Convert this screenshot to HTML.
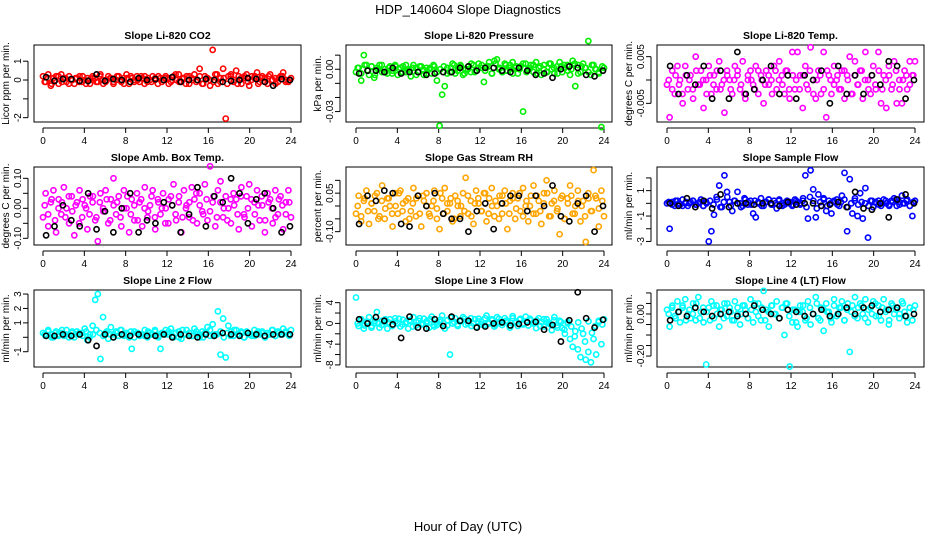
<!DOCTYPE html>
<html><head><meta charset="utf-8"><style>
html,body{margin:0;padding:0;background:#fff;}
svg{display:block;font-family:"Liberation Sans",sans-serif;}
</style></head><body>
<svg id="c" width="936" height="540" viewBox="0 0 936 540">
<text x="468" y="14" text-anchor="middle" font-size="13">HDP_140604  Slope Diagnostics</text>
<text x="468" y="531" text-anchor="middle" font-size="13">Hour of Day (UTC)</text>
</svg>
<script>
const xTicks=[0,4,8,12,16,20,24];
const titles=["Slope Li-820 CO2","Slope Li-820 Pressure","Slope Li-820 Temp.","Slope Amb. Box Temp.","Slope Gas Stream RH","Slope Sample Flow","Slope Line 2 Flow","Slope Line 3 Flow","Slope Line 4 (LT) Flow"];
const yTitles=["Licor ppm per min.","kPa per min.","degrees C per min.","degrees C per min.","percent per min.","ml/min per min.","ml/min per min.","ml/min per min.","ml/min per min."];
const yTickVals=[[-2,-1,0,1],[-0.03,-0.02,-0.01,0,0.01],[-0.005,0,0.005],[-0.1,-0.05,0,0.05,0.1],[-0.1,-0.05,0,0.05,0.1],[-3,-2,-1,0,1,2],[-1,0,1,2,3],[-8,-6,-4,-2,0,2,4],[-0.2,-0.15,-0.1,-0.05,0,0.05,0.1]];
const yTickLabels=[["-2","","0","1"],["-0.03","","","0.00",""],["-0.005","","0.005"],["-0.10","","0.00","","0.10"],["-0.10","","","0.05",""],["-3","","-1","","1",""],["-1","","1","2","3"],["-8","","-4","","0","","4"],["-0.20","","","","0.00","",""]];
const yDomains=[[-2.23,1.86],[-0.0374,0.0172],[-0.009,0.0075],[-0.1223,0.1377],[-0.152,0.152],[-3.28,2.86],[-2.06,3.28],[-8.4,6.44],[-0.252,0.114]];
const colors=["#ff0000","#00ee00","#ff00ff","#ff00ff","#ffa500","#0000ff","#00ffff","#00ffff","#00ffff"];
const co2=[0.2,-0.1,0.3,-0.3,0.1,0.2,-0.2,0.3,0.1,-0.1,0.2,0.0,-0.2,0.1,0.2,-0.1,0.0,0.1,-0.2,0.2,0.1,-0.1,0.3,0.0,-0.1,0.2,0.1,-0.2,0.0,0.2,-0.1,0.1,0.3,-0.2,0.1,0.0,0.2,-0.1,0.1,0.2,-0.1,0.0,0.2,0.1,-0.2,0.1,0.0,0.2,0.1,-0.1,0.2,0.0,0.3,-0.1,0.1,0.2,-0.2,0.1,0.3,0.0,0.6,-0.2,0.2,0.1,-0.3,1.6,0.3,-0.2,0.1,0.6,-2.05,0.2,0.3,-0.1,0.5,0.2,-0.2,0.1,0.3,-0.3,0.2,0.1,0.4,-0.1,0.2,0.1,-0.2,0.3,0.0,0.1,-0.1,0.2,0.4,0.0,-0.1,0.1];
const co2B=[-0.1,0.1,-0.2,0.0,0.2,-0.1,0.1,-0.2,0.0,0.1,-0.1,0.2,-0.2,0.0,0.1,-0.1,0.2,-0.2,0.0,0.1,-0.1,0.2,0.0,-0.2,0.1,0.2,-0.1,0.0,0.2,-0.2,0.1,-0.1,0.0,0.2,-0.1,0.1,-0.2,0.0,0.3,-0.1,0.1,-0.2,0.2,0.0,-0.1,0.2,-0.2,0.1,0.0,-0.1,0.3,-0.1,0.1,-0.2,0.2,0.0,-0.2,0.1,0.2,-0.1,0.0,0.2,-0.2,0.1,-0.1,0.2,0.0,-0.2,0.1,0.2,-0.1,0.0];
const pressure=[-0.002,0.001,-0.008,0.010,0.003,-0.004,0.002,-0.006,0.001,0.003,-0.002,0.000,-0.003,0.002,-0.001,0.003,-0.004,0.001,0.002,-0.002,0.000,-0.005,0.003,0.001,-0.002,0.002,-0.004,0.001,0.000,-0.003,0.002,-0.008,-0.040,-0.018,-0.012,0.001,-0.002,0.004,-0.003,0.001,0.003,-0.004,0.000,0.002,-0.002,0.003,-0.001,0.004,0.001,-0.009,0.002,0.005,-0.003,0.006,0.007,0.001,-0.002,0.004,-0.001,0.003,0.005,0.001,-0.003,0.002,-0.030,0.004,0.000,0.003,-0.002,0.005,0.001,-0.004,0.003,-0.002,0.004,0.000,-0.003,0.002,0.005,-0.002,0.001,0.003,-0.004,0.006,-0.012,0.003,-0.002,0.004,0.001,0.020,-0.004,0.003,0.000,-0.002,-0.041,0.001];
const pressureB=[0.001,-0.003,0.003,-0.001,0.002,-0.004,0.000,0.003,-0.002,0.001,-0.003,0.002,0.000,-0.002,0.003,-0.001,0.001,-0.004,0.002,0.000,-0.003,0.001,0.003,-0.002,0.000,0.002,-0.003,0.001,0.003,-0.001,0.002,-0.003,0.000,0.004,-0.002,0.001,0.003,-0.001,0.002,-0.003,0.004,0.000,-0.002,0.003,0.001,-0.003,0.002,0.000,0.004,-0.002,0.001,0.003,-0.003,0.002,0.000,-0.002,0.004,0.001,-0.003,0.002,0.003,-0.001,0.000,0.004,-0.003,0.002,0.001,-0.002,0.003,0.000,-0.003,0.002];
const licorTemp=[-0.001,-0.008,0.002,-0.003,0.003,0.000,-0.005,0.003,-0.002,0.001,-0.004,0.005,-0.001,0.002,-0.006,0.000,0.003,-0.003,0.001,-0.002,0.004,-0.001,-0.007,0.002,0.000,-0.003,0.003,0.001,-0.002,0.004,-0.004,0.000,0.002,-0.001,0.003,-0.003,0.001,-0.005,0.002,-0.001,0.000,0.003,-0.002,0.004,0.001,-0.003,0.002,-0.004,0.006,-0.002,0.006,0.001,-0.006,0.003,-0.002,0.007,0.000,-0.004,0.002,-0.003,0.006,-0.008,0.001,-0.003,0.003,0.000,-0.002,0.002,-0.004,0.001,0.005,-0.003,0.004,-0.001,0.002,-0.004,0.006,0.000,-0.003,0.003,-0.002,0.006,-0.005,0.001,-0.006,0.003,-0.002,0.004,-0.005,0.000,-0.005,0.002,-0.002,0.004,0.001,0.004];
const licorTempB=[0.000,-0.002,0.001,-0.001,-0.003,0.001,0.000,-0.002,0.002,-0.001,0.000,-0.003,0.001,-0.001,0.002,-0.002,0.000,0.001,-0.002,0.000,0.002,-0.001,-0.003,0.001,0.000,-0.002,0.002,0.000,-0.001,0.001,-0.003,0.002,0.000,-0.001,0.002,-0.002,0.001,0.000,-0.002,0.001,-0.001,0.002,-0.003,0.000,0.001,-0.002,0.002,0.000,-0.001,0.001,-0.002,0.002,0.000,-0.003,0.001,-0.001,0.002,0.000,-0.002,0.001,-0.001,0.002,-0.002,0.000,0.001,-0.001,0.002,-0.002,0.000,0.001,-0.001,0.001];
const ambTemp=[-0.03,0.05,-0.06,0.02,0.06,-0.08,0.03,-0.02,0.07,0.00,-0.05,0.04,-0.09,0.02,0.06,-0.03,0.01,-0.07,0.04,0.02,-0.04,-0.11,0.05,0.00,0.06,-0.05,0.03,0.10,-0.02,0.04,-0.06,0.06,0.00,-0.08,0.03,-0.04,0.05,0.02,-0.06,0.07,-0.03,0.01,0.06,-0.07,0.03,-0.02,0.05,0.00,-0.05,0.04,0.08,-0.04,0.02,-0.08,0.06,0.01,-0.03,0.07,0.03,-0.05,0.05,-0.01,0.08,-0.04,0.14,0.02,-0.06,0.06,0.09,-0.03,0.04,0.00,-0.05,0.05,0.03,-0.07,0.07,-0.02,0.04,0.08,-0.06,0.02,0.06,-0.04,0.01,-0.08,0.05,0.03,-0.05,0.06,-0.02,0.04,-0.07,0.02,0.06,-0.03];
const ambTempB=[0.01,-0.02,0.03,-0.04,0.00,0.02,-0.03,0.04,-0.01,0.01,-0.05,0.03,0.00,-0.02,0.04,-0.03,0.02,-0.01,0.03,-0.04,0.01,0.02,-0.03,0.00,0.04,-0.02,0.01,-0.04,0.03,0.00,-0.01,0.04,-0.03,0.02,0.00,-0.05,0.03,0.01,-0.02,0.04,-0.03,0.00,0.02,-0.04,0.05,0.01,-0.02,0.03,-0.01,0.04,-0.03,0.02,0.00,-0.04,0.03,0.01,-0.02,0.04,-0.03,0.00,0.03,-0.02,0.01,0.04,-0.04,0.02,0.00,-0.03,0.03,0.01,-0.02,0.02];
const rh=[-0.03,0.04,-0.06,0.02,0.06,-0.07,0.01,-0.02,0.05,-0.04,0.08,-0.05,0.03,0.00,-0.08,0.05,-0.03,0.06,0.01,-0.06,0.03,-0.02,0.07,-0.04,0.04,-0.08,0.02,0.05,-0.03,0.00,0.06,-0.05,-0.09,0.03,0.07,-0.02,0.01,-0.06,0.04,0.00,-0.04,0.05,0.11,-0.03,0.02,-0.07,0.06,0.01,-0.02,0.05,-0.06,0.03,0.07,-0.04,0.00,0.04,-0.03,0.06,-0.09,0.02,0.05,-0.05,0.03,-0.02,0.07,0.00,-0.06,0.04,0.08,-0.03,0.02,-0.07,0.05,0.10,-0.04,0.01,0.06,-0.02,-0.11,0.04,-0.05,0.03,0.08,-0.03,0.00,0.06,-0.06,0.02,-0.14,0.05,-0.02,0.14,0.03,-0.08,0.06,-0.04];
const rhB=[0.00,-0.04,0.03,-0.02,0.01,0.04,-0.05,0.02,-0.01,0.03,-0.03,0.00,0.05,-0.02,0.02,-0.05,0.01,0.03,-0.03,0.04,0.00,-0.04,0.02,-0.01,0.05,-0.03,0.01,0.03,-0.05,0.02,0.00,-0.02,0.04,-0.04,0.01,0.03,-0.02,0.05,-0.03,0.00,0.02,-0.05,0.04,0.01,-0.03,0.03,-0.01,0.05,-0.04,0.02,0.00,-0.03,0.04,-0.02,0.01,0.05,-0.04,0.02,-0.01,0.03,-0.05,0.01,0.04,-0.03,0.02,0.00,-0.04,0.03,-0.02,0.04,-0.01,0.02];
const sampleFlow=[0.0,-2.0,0.1,-0.2,0.2,-0.1,0.3,0.0,-0.2,0.1,0.2,-0.1,0.0,0.3,-0.2,0.1,-3.0,-2.2,-0.9,0.5,1.4,-0.3,2.2,0.9,0.1,-0.6,0.2,0.9,0.0,-0.2,0.3,-0.1,0.2,-0.8,-1.1,0.1,0.4,-0.2,0.1,0.3,-0.1,0.2,-0.4,0.3,0.0,-0.1,0.2,0.1,-0.2,0.3,0.1,-0.1,0.2,2.2,-1.2,2.6,1.1,-1.1,0.7,-0.2,0.4,-0.6,0.2,-0.8,0.1,0.3,-0.2,0.6,2.4,-2.2,1.9,-0.8,0.4,-1.0,0.8,-1.2,1.2,-2.7,0.2,-0.3,0.1,0.2,-0.2,0.3,0.0,-0.1,0.2,0.4,-0.2,0.1,0.6,0.0,0.3,-0.2,-1.0,0.2];
const sampleFlowB=[0.1,-0.1,0.2,0.0,-0.2,0.1,0.0,0.2,-0.1,0.1,-0.2,0.0,0.2,-0.1,0.3,-0.3,0.1,0.5,-0.2,0.2,0.0,-0.3,0.4,0.1,-0.1,0.2,0.0,-0.2,0.1,0.3,-0.1,0.0,0.2,-0.2,0.1,0.0,-0.1,0.2,0.0,0.4,-0.3,0.5,0.2,-0.4,0.1,0.3,-0.2,0.0,0.2,-0.1,0.1,0.3,-0.3,0.0,0.2,-0.1,0.1,0.0,-0.2,0.2,0.1,-0.1,0.0,0.2,-0.2,0.1,0.3,-0.1,0.0,0.2,-0.2,0.1];
const line2=[0.3,0.1,0.5,0.2,0.0,0.4,0.2,0.3,0.1,0.5,0.2,0.3,0.0,0.4,0.2,0.3,0.6,-0.2,0.2,0.8,2.6,3.0,-1.5,1.4,0.3,-0.1,0.7,0.2,0.4,0.1,0.5,0.2,0.3,0.0,-0.8,0.4,0.3,0.1,0.2,0.5,0.0,0.3,0.2,0.4,0.1,-0.8,0.3,0.5,0.2,0.6,0.0,0.3,0.4,-0.1,0.2,0.5,0.3,0.1,0.6,0.2,0.0,0.4,0.3,0.7,0.1,0.9,0.2,1.8,-1.2,1.3,-1.4,0.8,0.4,0.1,0.5,0.2,0.3,0.0,0.4,0.2,0.1,0.5,0.3,0.2,0.4,0.0,0.3,0.2,0.5,0.1,0.4,0.2,0.6,0.3,0.2,0.5];
const line2B=[0.2,0.4,0.0,0.3,0.1,0.5,0.2,0.0,0.4,0.2,0.3,0.1,0.4,0.0,0.2,0.5,0.3,0.1,0.4,0.2,0.0,0.3,0.5,0.1,0.2,0.4,0.0,0.3,0.2,0.1,0.4,0.2,0.5,0.0,0.3,0.2,0.4,0.1,0.3,0.0,0.5,0.2,0.3,0.1,0.4,0.2,0.0,0.3,0.5,0.1,0.2,0.4,0.0,0.3,0.1,0.5,0.2,0.4,0.0,0.3,0.2,0.1,0.4,0.3,0.0,0.2,0.5,0.1,0.3,0.2,0.4,0.1];
const line3=[5.0,-0.5,0.8,-1.0,0.3,1.2,-0.5,0.0,2.2,-0.8,0.5,0.2,-1.0,0.8,-0.3,1.0,0.0,-0.6,0.7,0.2,-1.0,0.4,1.2,-0.4,0.5,-0.2,0.9,0.0,-0.8,1.3,-0.6,-0.3,0.3,1.5,-1.0,0.6,-6.0,0.0,1.0,-0.5,0.4,1.2,-0.2,0.5,1.0,0.0,-0.7,0.9,0.3,-0.4,1.5,0.0,0.8,-0.6,1.2,0.2,-0.3,1.0,0.5,-0.8,1.4,0.1,-0.5,0.9,0.0,1.3,-0.4,0.6,0.2,-0.9,1.0,0.3,-0.6,0.8,0.0,-1.3,1.2,-0.4,0.5,-0.9,-2.0,0.3,-3.0,-4.5,-1.5,-5.0,-6.5,-2.0,-7.0,-5.5,-7.5,-3.0,-6.0,0.5,-4.0,0.8];
const line3B=[0.0,0.6,-0.4,0.3,-0.8,0.5,0.0,-0.3,0.8,0.2,-0.5,0.4,0.9,-0.2,0.1,0.6,-0.6,0.3,1.0,-0.1,0.4,0.8,-0.3,0.2,0.7,0.0,-0.4,1.1,0.3,-0.2,0.6,0.9,0.0,-0.5,0.8,0.4,-0.2,1.0,0.2,0.6,-0.3,0.9,0.1,0.5,-0.4,1.0,0.3,0.7,-0.2,0.4,0.9,0.0,0.6,-0.5,0.8,0.2,-0.2,0.6,-0.8,0.3,-1.2,0.0,-0.6,-2.5,0.2,-1.0,-3.5,0.4,-1.8,-0.5,0.3,-0.2];
const line4=[0.02,-0.06,0.04,-0.01,0.06,-0.04,0.03,0.07,0.00,-0.02,0.05,-0.03,0.08,0.01,-0.04,-0.24,0.03,0.06,-0.02,0.04,-0.06,0.02,0.05,-0.01,0.03,-0.03,0.06,0.00,-0.05,0.04,0.02,-0.02,0.07,-0.04,0.01,0.05,-0.03,0.11,0.02,-0.06,0.04,0.00,0.06,-0.02,0.03,-0.10,0.05,-0.25,-0.04,0.02,-0.06,0.04,0.01,-0.03,0.06,-0.05,0.00,0.08,-0.02,0.03,-0.08,0.05,0.01,-0.04,0.07,-0.01,0.03,0.06,-0.03,0.02,-0.18,0.04,0.08,-0.02,0.05,0.00,0.07,-0.04,0.03,0.06,-0.01,0.04,-0.03,0.07,0.02,-0.05,0.05,0.00,0.03,-0.02,0.06,0.01,-0.04,0.03,-0.03,0.04];
const line4B=[0.00,0.03,-0.02,0.01,0.04,-0.03,0.02,0.00,0.05,-0.02,0.03,0.01,-0.03,0.04,0.00,0.02,-0.02,0.05,0.01,-0.03,0.03,0.00,0.04,-0.02,0.02,0.05,-0.01,0.03,-0.03,0.01,0.04,0.00,-0.02,0.03,0.05,-0.01,0.02,-0.04,0.01,0.04,-0.02,0.03,0.00,0.05,-0.03,0.02,0.01,-0.02,0.04,0.00,0.03,-0.03,0.05,0.01,-0.01,0.03,0.04,-0.02,0.02,0.00,0.05,-0.01,0.03,0.01,-0.03,0.04,0.02,0.00,0.05,-0.01,0.03,0.02];
const co2Hourly=[0.15,-0.05,0.05,0.05,-0.05,-0.05,0.3,-0.05,0.05,0.0,-0.1,0.1,0.0,0.05,0.0,0.15,-0.1,0.0,0.0,0.05,0.0,-0.1,-0.05,0.0,0.1,0.05,-0.1,-0.3,0.05,0.0];
const pressureHourly=[-0.003,-0.001,-0.001,-0.002,0.001,-0.003,-0.002,-0.002,-0.004,-0.003,-0.002,-0.002,0.001,0.002,-0.001,0.001,0.001,-0.001,-0.002,0.001,-0.001,-0.004,-0.003,-0.006,0.000,0.002,0.001,-0.004,-0.005,-0.001];
const licorTempHourly=[0.003,-0.003,0.001,-0.001,0.003,-0.004,0.002,-0.004,0.006,-0.003,-0.002,0.000,0.003,-0.003,0.001,-0.004,0.001,0.000,0.002,-0.005,0.003,-0.003,0.001,-0.003,0.001,-0.001,0.004,0.003,-0.004,0.000];
const ambTempHourly=[-0.09,-0.06,0.01,-0.04,-0.06,0.05,-0.07,-0.01,-0.08,0.00,0.05,-0.08,-0.04,-0.05,0.02,0.01,-0.08,-0.02,0.07,-0.06,0.04,0.02,0.10,0.05,-0.05,0.03,0.05,0.00,-0.08,-0.06];
const rhHourly=[-0.07,0.04,0.02,0.06,0.05,-0.07,-0.08,0.04,0.00,0.05,-0.03,-0.05,-0.05,-0.10,-0.02,0.01,-0.09,0.01,0.04,0.04,-0.02,0.04,0.00,0.08,-0.04,-0.06,0.01,0.04,-0.10,0.00];
const sampleFlowHourly=[0.0,-0.2,0.4,-0.3,0.2,-0.4,0.7,-0.3,0.0,0.0,-0.1,0.0,0.0,-0.2,0.1,-0.1,0.0,0.0,-0.2,-0.1,0.1,-0.3,0.9,-0.4,-0.5,0.0,-1.1,0.3,0.7,0.0];
const line2Hourly=[0.1,0.1,0.2,0.1,0.2,-0.2,-0.6,0.2,0.0,0.2,0.1,0.2,0.1,0.1,0.2,0.0,0.2,0.1,0.0,0.2,0.1,0.3,0.2,0.1,0.3,0.2,0.1,0.2,0.2,0.2];
const line3Hourly=[0.8,0.0,1.2,0.5,-0.2,-2.8,1.3,-0.8,-1.0,0.8,-0.5,1.3,0.5,0.5,-0.8,-0.6,0.0,0.2,-0.4,-0.1,0.2,0.3,-1.2,-0.3,-3.5,0.6,6.0,1.0,-0.8,0.7];
const line4Hourly=[-0.03,0.01,-0.01,0.03,0.01,-0.01,0.0,0.01,-0.01,0.0,0.04,0.02,0.0,-0.02,0.02,0.01,-0.01,0.0,0.02,-0.01,0.0,0.03,0.0,0.03,0.04,0.01,0.02,0.03,-0.01,0.00];
const seriesList=[co2,pressure,licorTemp,ambTemp,rh,sampleFlow,line2,line3,line4];
const seriesBList=[co2B,pressureB,licorTempB,ambTempB,rhB,sampleFlowB,line2B,line3B,line4B];
const hourlyList=[co2Hourly,pressureHourly,licorTempHourly,ambTempHourly,rhHourly,sampleFlowHourly,line2Hourly,line3Hourly,line4Hourly];

const NS="http://www.w3.org/2000/svg";
const svg=document.getElementById('c');
const colBox=[[34,301],[346,612],[657,924]];
const colX0=[43,356,667];
const rowBox=[[45,122],[167,245],[290,367]];
function mk(tag,attrs,parent){const e=document.createElementNS(NS,tag);for(const k in attrs)e.setAttribute(k,attrs[k]);(parent||svg).appendChild(e);return e;}
for(let p=0;p<9;p++){
  const col=p%3,row=Math.floor(p/3);
  const [L,R]=colBox[col],[T,B]=rowBox[row];
  const x0=colX0[col];
  const xs=t=>x0+t*(248/24);
  const [ymin,ymax]=yDomains[p];
  const ys=v=>B-(v-ymin)/(ymax-ymin)*(B-T);
  const g=mk('g',{});
  
  
  const tt=mk('text',{x:(L+R)/2,y:T-6,'text-anchor':'middle','font-size':'10.5','font-weight':'bold'},g);
  tt.textContent=titles[p];
  
  
  const yt=mk('text',{x:0,y:0,'text-anchor':'middle','font-size':'10',transform:`translate(${L-25},${(T+B)/2}) rotate(-90)`},g);
  yt.textContent=yTitles[p];
  
  
  const xa=mk('g',{},g);
  
  
  mk('line',{x1:xs(0),x2:xs(24),y1:B+6,y2:B+6,stroke:'#000'},xa);
  xTicks.forEach(t=>{
    mk('line',{x1:xs(t),x2:xs(t),y1:B+6,y2:B+11,stroke:'#000'},xa);
    const l=mk('text',{x:xs(t),y:B+22,'text-anchor':'middle','font-size':'10'},xa);
    l.textContent=t;
    
    
  });
  const ya=mk('g',{},g);
  
  
  const tv=yTickVals[p];
  mk('line',{x1:L-6,x2:L-6,y1:ys(tv[0]),y2:ys(tv[tv.length-1]),stroke:'#000'},ya);
  tv.forEach((v,i)=>{
    mk('line',{x1:L-11,x2:L-6,y1:ys(v),y2:ys(v),stroke:'#000'},ya);
    const lab=yTickLabels[p][i];
    if(lab){
      const l=mk('text',{x:0,y:0,'text-anchor':'middle','font-size':'10',transform:`translate(${L-13},${ys(v)}) rotate(-90)`},ya);
      l.textContent=lab;
      
      
    }
  });
  mk('rect',{x:L,y:T,width:R-L,height:B-T,fill:'none',stroke:'#000'},g);
  const sg=mk('g',{},g);
  
  
  const s=seriesList[p];
  s.forEach((v,i)=>{
    const c=mk('circle',{cx:xs(i*24/(s.length-1)),cy:ys(v),r:2.6,fill:'none',stroke:colors[p],'stroke-width':1.6},sg);
    
    
  });
  const sb=seriesBList[p];
  sb.forEach((v,i)=>{
    const c=mk('circle',{cx:xs((i+0.5)*24/sb.length),cy:ys(v),r:2.6,fill:'none',stroke:colors[p],'stroke-width':1.6},sg);
    
    
  });
  const h=hourlyList[p];
  const hg=mk('g',{},g);
  
  
  h.forEach((v,i)=>{
    const c=mk('circle',{cx:xs(0.3+i*23.6/(h.length-1)),cy:ys(v),r:2.6,fill:'none',stroke:'#000','stroke-width':1.6},hg);
    
    
  });
}
</script>
</body></html>
